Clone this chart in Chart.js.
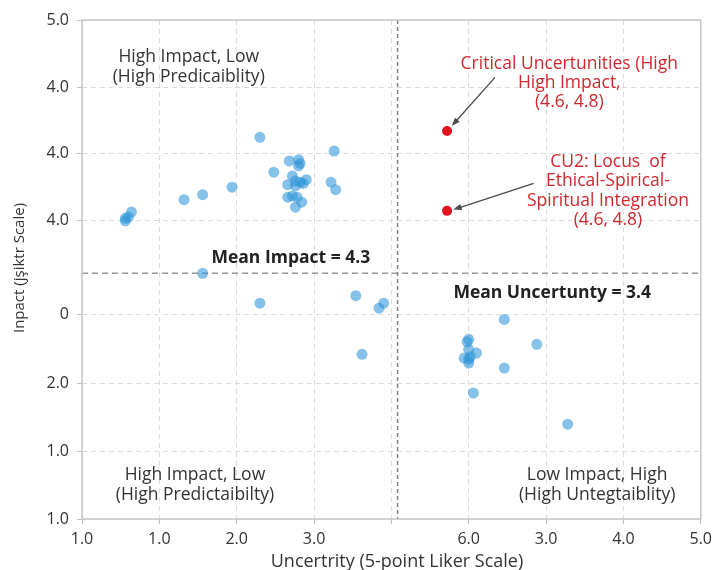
<!DOCTYPE html>
<html>
<head>
<meta charset="utf-8">
<script src="https://cdn.jsdelivr.net/npm/chart.js@4.4.1/dist/chart.umd.min.js"></script>
<style>
  body { margin: 0; background: #fff; }
  canvas { display: block; }
</style>
</head>
<body>
<canvas id="chart" width="718" height="570"></canvas>
<script>
// tick labels as printed on the original figure (they are not in order)
const xTickLabels = ["1.0", "1.0", "2.0", "3.0", "", "6.0", "3.0", "4.0", "5.0"];
const yTickValues = [1.0, 1.54, 2.09, 2.64, 3.39, 3.93, 4.46, 5.0];
const yTickLabels = ["1.0", "1.0", "2.0", "0", "4.0", "4.0", "4.0", "5.0"];

const uncertainty = [
  2.15, 2.63, 2.34, 2.40, 2.41, 2.40, 2.24, 2.36, 2.45, 2.38, 2.41, 2.43, 2.33, 2.38,
  2.61, 2.64, 1.97, 1.78, 1.66, 2.33, 2.36, 2.39, 2.42, 2.38, 1.32, 1.30, 1.28, 1.28,
  1.78, 2.15, 2.77, 2.95, 2.92, 2.81,
  3.73, 3.94, 3.50, 3.49, 3.50, 3.55, 3.47, 3.51, 3.50, 3.50, 3.73, 3.53, 4.14
];
const impact = [
  4.06, 3.95, 3.87, 3.88, 3.85, 3.83, 3.78, 3.75, 3.72, 3.71, 3.70, 3.69, 3.68, 3.67,
  3.70, 3.64, 3.66, 3.60, 3.56, 3.58, 3.59, 3.58, 3.54, 3.50, 3.46, 3.42, 3.39, 3.41,
  2.97, 2.73, 2.79, 2.73, 2.69, 2.32,
  2.60, 2.40, 2.44, 2.42, 2.36, 2.33, 2.29, 2.30, 2.28, 2.25, 2.21, 2.01, 1.76
];

const criticalX = [3.36, 3.36];
const criticalY = [4.11, 3.47];

const meanImpact = 2.97;
const meanUncertainty = 3.04;

const BLUE = "rgba(45, 148, 215, 0.58)";
const RED = "#e0141e";
const RED_TEXT = "#d2262e";
const FONT = "'Open Sans', 'DejaVu Sans', sans-serif";

// labels placed in data units: [x, y, lines, colour, bold]
const notes = [
  [1.69, 4.70, ["High Impact, Low", "(High Predicaiblity)"], "#333", false],
  [4.15, 4.65, ["Critical Uncertunities (High", "High Impact,", "(4.6, 4.8)"], RED_TEXT, false],
  [4.40, 3.86, ["CU2: Locus  of", "Ethical-Spirical-", "Spiritual Integration", "(4.6, 4.8)"], RED_TEXT, false],
  [2.35, 3.09, ["Mean Impact = 4.3"], "#222", true],
  [4.04, 2.81, ["Mean Uncertunty = 3.4"], "#222", true],
  [1.73, 1.35, ["High Impact, Low", "(High Predictaibilty)"], "#333", false],
  [4.33, 1.35, ["Low Impact, High", "(High Untegtaiblity)"], "#333", false]
];

// arrows: [fromX, fromY, toX, toY]
const arrows = [
  [3.67, 4.54, 3.39, 4.15],
  [3.92, 3.69, 3.40, 3.48]
];

let points = [];
for (let i = 0; i < uncertainty.length; i++) {
  points.push({ x: uncertainty[i], y: impact[i] });
}
let criticalPoints = [];
for (let i = 0; i < criticalX.length; i++) {
  criticalPoints.push({ x: criticalX[i], y: criticalY[i] });
}

const extras = {
  id: "extras",
  beforeDatasetsDraw: function (chart) {
    let ctx = chart.ctx;
    let xs = chart.scales.x;
    let ys = chart.scales.y;
    let area = chart.chartArea;
    ctx.save();
    ctx.lineWidth = 1.5;
    ctx.strokeStyle = "#9a9a9a";
    ctx.setLineDash([6, 4]);
    let py = ys.getPixelForValue(meanImpact);
    ctx.beginPath();
    ctx.moveTo(area.left, py);
    ctx.lineTo(area.right, py);
    ctx.stroke();
    ctx.strokeStyle = "#808080";
    ctx.setLineDash([4, 3]);
    let px = xs.getPixelForValue(meanUncertainty);
    ctx.beginPath();
    ctx.moveTo(px, area.top);
    ctx.lineTo(px, area.bottom);
    ctx.stroke();
    ctx.restore();
  },
  afterDatasetsDraw: function (chart) {
    let ctx = chart.ctx;
    let xs = chart.scales.x;
    let ys = chart.scales.y;
    let area = chart.chartArea;
    ctx.save();
    ctx.textAlign = "center";
    ctx.textBaseline = "middle";
    for (let i = 0; i < notes.length; i++) {
      let n = notes[i];
      let cx = xs.getPixelForValue(n[0]);
      let cy = ys.getPixelForValue(n[1]);
      ctx.fillStyle = n[3];
      ctx.font = (n[4] ? "bold " : "") + "17.5px " + FONT;
      for (let j = 0; j < n[2].length; j++) {
        ctx.fillText(n[2][j], cx, cy + j * 19.3);
      }
    }

    ctx.strokeStyle = "#4a4a4a";
    ctx.fillStyle = "#4a4a4a";
    ctx.lineWidth = 1.3;
    for (let i = 0; i < arrows.length; i++) {
      let a = arrows[i];
      let x1 = xs.getPixelForValue(a[0]), y1 = ys.getPixelForValue(a[1]);
      let x2 = xs.getPixelForValue(a[2]), y2 = ys.getPixelForValue(a[3]);
      let ang = Math.atan2(y2 - y1, x2 - x1);
      ctx.beginPath();
      ctx.moveTo(x1, y1);
      ctx.lineTo(x2 - 6 * Math.cos(ang), y2 - 6 * Math.sin(ang));
      ctx.stroke();
      ctx.beginPath();
      ctx.moveTo(x2, y2);
      ctx.lineTo(x2 - 9 * Math.cos(ang - 0.35), y2 - 9 * Math.sin(ang - 0.35));
      ctx.lineTo(x2 - 9 * Math.cos(ang + 0.35), y2 - 9 * Math.sin(ang + 0.35));
      ctx.closePath();
      ctx.fill();
    }

    // axis titles
    ctx.fillStyle = "#333";
    ctx.font = "18px " + FONT;
    ctx.fillText("Uncertrity (5-point Liker Scale)", 397, 562);
    ctx.translate(20, 268);
    ctx.rotate(-Math.PI / 2);
    ctx.font = "15px " + FONT;
    ctx.fillText("Inpact (jşiktr Scale)", 0, 0);
    ctx.restore();
  },
  afterDraw: function (chart) {
    let ctx = chart.ctx;
    let area = chart.chartArea;
    ctx.save();
    ctx.strokeStyle = "#c6c6c6";
    ctx.lineWidth = 1.5;
    ctx.strokeRect(area.left, area.top, area.right - area.left, area.bottom - area.top);
    ctx.restore();
  }
};

new Chart(document.getElementById("chart"), {
  type: "scatter",
  data: {
    datasets: [
      {
        data: points,
        backgroundColor: BLUE,
        borderWidth: 0,
        pointRadius: 5.5,
        pointHoverRadius: 5.5
      },
      {
        data: criticalPoints,
        backgroundColor: RED,
        borderWidth: 0,
        pointRadius: 5,
        pointHoverRadius: 5
      }
    ]
  },
  options: {
    responsive: false,
    animation: false,
    events: [],
    layout: { padding: { top: 20, right: 13, left: 0, bottom: 0 } },
    plugins: { legend: { display: false }, tooltip: { enabled: false } },
    scales: {
      x: {
        type: "linear",
        min: 1,
        max: 5,
        afterFit: function (scale) { scale.height = 51; },
        ticks: {
          stepSize: 0.5,
          autoSkip: false,
          maxRotation: 0,
          color: "#333",
          padding: 6,
          font: { family: FONT, size: 16 },
          callback: function (value, index) { return xTickLabels[index]; }
        },
        grid: { color: "#dcdcdc", tickColor: "#bdbdbd", tickLength: 5 },
        border: { display: false, dash: [5, 4] }
      },
      y: {
        type: "linear",
        min: 1,
        max: 5,
        afterFit: function (scale) { scale.width = 82; },
        afterBuildTicks: function (axis) {
          axis.ticks = yTickValues.map(function (v) { return { value: v }; });
        },
        ticks: {
          autoSkip: false,
          color: "#333",
          padding: 8,
          font: { family: FONT, size: 16 },
          callback: function (value, index) { return yTickLabels[index]; }
        },
        grid: { color: "#dcdcdc", tickColor: "#bdbdbd", tickLength: 5 },
        border: { display: false, dash: [5, 4] }
      }
    }
  },
  plugins: [extras]
});
</script>
</body>
</html>
